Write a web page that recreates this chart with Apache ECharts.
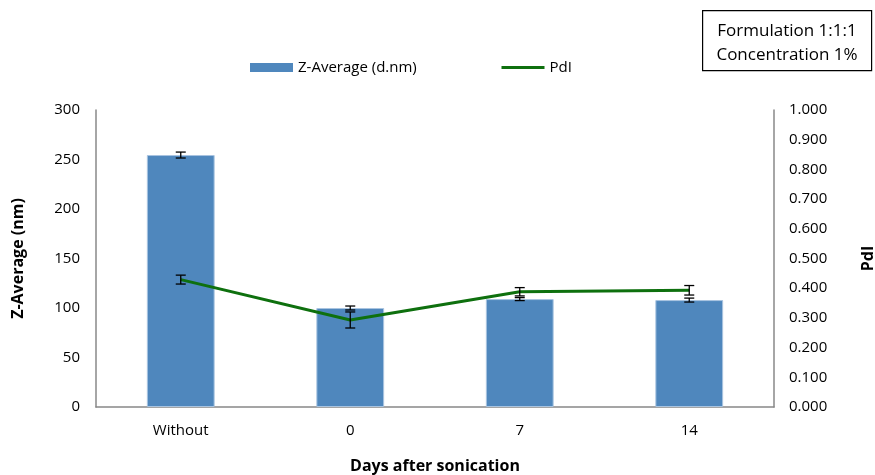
<!DOCTYPE html>
<html>
<head>
<meta charset="utf-8">
<script src="https://cdn.jsdelivr.net/npm/echarts@6/dist/echarts.min.js"></script>
<style>
  html, body { margin: 0; padding: 0; background: #fff; }
  #chart { width: 875px; height: 475px; }
</style>
</head>
<body>
<div id="chart"></div>
<script>
// Particle size and polydispersity after sonication
const categories = ['Without', '0', '7', '14'];
const zAverage = [254.5, 100, 109, 108];
const zAverageErr = [3, 2, 1.5, 2];
const pdi = [0.429, 0.293, 0.388, 0.393];
const pdiErr = [0.015, 0.027, 0.014, 0.016];

const FONT = '"Open Sans", "Liberation Sans", sans-serif';
const BAR_COLOR = '#4F87BD';
const LINE_COLOR = '#0E700E';

// Custom renderer for vertical error bars with caps
function errorBarRenderer(values, errors) {
  return function (params, api) {
    const i = api.value(0);
    const v = values[i], e = errors[i];
    const top = api.coord([i, v + e]);
    const bot = api.coord([i, v - e]);
    const x = top[0];
    const half = 5;
    const style = { stroke: '#000', lineWidth: 1.3, fill: null };
    return {
      type: 'group',
      children: [
        { type: 'line', shape: { x1: x, y1: top[1], x2: x, y2: bot[1] }, style },
        { type: 'line', shape: { x1: x - half, y1: top[1], x2: x + half, y2: top[1] }, style },
        { type: 'line', shape: { x1: x - half, y1: bot[1], x2: x + half, y2: bot[1] }, style }
      ]
    };
  };
}

const chart = echarts.init(document.getElementById('chart'), null, { renderer: 'canvas' });

const legendText = { fontFamily: FONT, fontSize: 15, color: '#000' };

chart.setOption({
  animation: false,
  backgroundColor: '#fff',
  textStyle: { fontFamily: FONT },
  legend: [
    {
      top: 60, left: 250, padding: 0, itemGap: 4,
      itemWidth: 43, itemHeight: 9,
      textStyle: legendText,
      data: [{ name: 'Z-Average (d.nm)', icon: 'rect', itemStyle: { color: BAR_COLOR, borderWidth: 0 } }]
    },
    {
      top: 60, left: 500, padding: 0,
      itemWidth: 43, itemHeight: 16,
      textStyle: legendText,
      data: [{ name: 'PdI', itemStyle: { opacity: 0 }, lineStyle: { color: LINE_COLOR, width: 3 } }]
    }
  ],
  graphic: [
    {
      type: 'rect',
      left: 702, top: 10,
      shape: { width: 169, height: 60 },
      style: { fill: '#fff', stroke: '#000', lineWidth: 1.2 }
    },
    {
      type: 'text',
      x: 787, y: 31,
      style: { text: 'Formulation 1:1:1', fontFamily: FONT, fontSize: 17, fill: '#000', align: 'center', verticalAlign: 'middle' }
    },
    {
      type: 'text',
      x: 787, y: 55,
      style: { text: 'Concentration 1%', fontFamily: FONT, fontSize: 17, fill: '#000', align: 'center', verticalAlign: 'middle' }
    }
  ],
  grid: { left: 96, right: 101, top: 110, bottom: 68, containLabel: false, outerBoundsMode: 'none' },
  xAxis: {
    type: 'category',
    data: categories,
    name: 'Days after sonication',
    nameLocation: 'middle',
    nameGap: 51,
    nameTextStyle: { fontFamily: FONT, fontSize: 16, fontWeight: 'bold', color: '#000' },
    axisLine: { lineStyle: { color: '#888', width: 1.5 } },
    axisTick: { show: false },
    axisLabel: { fontFamily: FONT, fontSize: 15, color: '#000', margin: 16 }
  },
  yAxis: [
    {
      type: 'value',
      min: 0, max: 300, interval: 50,
      name: 'Z-Average (nm)',
      nameLocation: 'middle',
      nameRotate: 90,
      nameGap: 70,
      nameTextStyle: { fontFamily: FONT, fontSize: 16, fontWeight: 'bold', color: '#000' },
      axisLine: { show: true, lineStyle: { color: '#888', width: 1.5 } },
      axisTick: { show: false },
      splitLine: { show: false },
      axisLabel: { fontFamily: FONT, fontSize: 15, color: '#000', margin: 16 }
    },
    {
      type: 'value',
      min: 0, max: 1, interval: 0.1,
      position: 'right',
      name: 'PdI',
      nameLocation: 'middle',
      nameRotate: 90,
      nameGap: 86,
      nameTextStyle: { fontFamily: FONT, fontSize: 16, fontWeight: 'bold', color: '#000' },
      axisLine: { show: true, lineStyle: { color: '#888', width: 1.5 } },
      axisTick: { show: false },
      splitLine: { show: false },
      axisLabel: {
        fontFamily: FONT, fontSize: 15, color: '#000', margin: 15,
        formatter: v => v.toFixed(3)
      }
    }
  ],
  series: [
    {
      name: 'Z-Average (d.nm)',
      type: 'bar',
      data: zAverage,
      barWidth: '40%',
      itemStyle: { color: BAR_COLOR, borderColor: '#A9C4E0', borderWidth: 1 },
      z: 2
    },
    {
      name: 'zErr',
      type: 'custom',
      data: categories.map((c, i) => [i, zAverage[i]]),
      renderItem: errorBarRenderer(zAverage, zAverageErr),
      z: 3,
      silent: true
    },
    {
      name: 'PdI',
      type: 'line',
      yAxisIndex: 1,
      data: pdi,
      symbol: 'none',
      lineStyle: { color: LINE_COLOR, width: 3 },
      itemStyle: { color: LINE_COLOR },
      z: 4
    },
    {
      name: 'pdiErr',
      type: 'custom',
      yAxisIndex: 1,
      data: categories.map((c, i) => [i, pdi[i]]),
      renderItem: errorBarRenderer(pdi, pdiErr),
      z: 5,
      silent: true
    }
  ]
});
</script>
</body>
</html>
